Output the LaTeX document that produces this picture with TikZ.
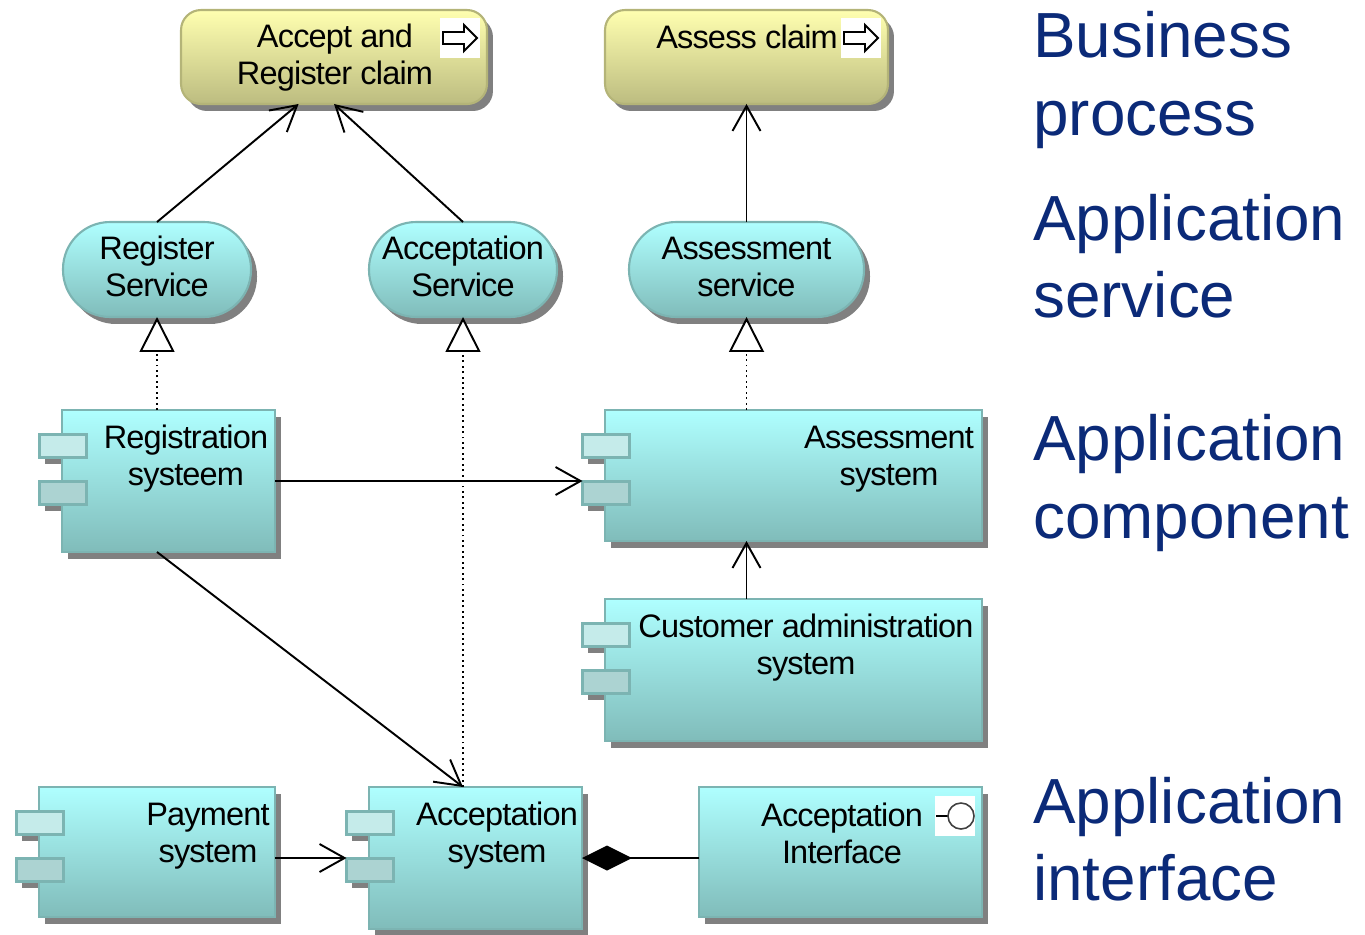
\documentclass[tikz,border=0pt]{standalone}
\usepackage{fontspec}
\setmainfont{Liberation Sans}[LetterSpace=-2.5]
\newfontfamily\layerfont{Liberation Sans}
\usepackage{xcolor}
\usepackage{tikz}
\usetikzlibrary{arrows.meta,shadows}
\definecolor{appedge}{HTML}{7CB4B2}
\definecolor{apptop}{HTML}{AFFFFF}
\definecolor{appbot}{HTML}{80BCBA}
\definecolor{bizedge}{HTML}{B4B478}
\definecolor{biztop}{HTML}{FFFFB0}
\definecolor{bizbot}{HTML}{BCBC80}
\definecolor{shadowgray}{HTML}{808080}
\definecolor{layerblue}{HTML}{0B2A78}

\begin{document}
\begin{tikzpicture}[
   x=0.02cm,y=-0.02cm,
   solidshadow/.style={drop shadow={shadow xshift=0.12cm,shadow yshift=-0.14cm,fill=shadowgray,opacity=1}},
   biz/.style={draw=bizedge,line width=1.2pt,outer sep=0pt,rounded corners=0.4cm,top color=biztop,bottom color=bizbot,minimum height=1.88cm,solidshadow},
   svc/.style={draw=appedge,line width=1.2pt,outer sep=0pt,rounded corners=0.94cm,top color=apptop,bottom color=appbot,minimum height=1.9cm,text depth=0.12cm,solidshadow},
   comp/.style={draw=appedge,line width=1.2pt,outer sep=0pt,top color=apptop,bottom color=appbot,inner sep=0pt,solidshadow},
   tabbox/.style={draw=appedge,line width=1.2pt,outer sep=0pt,minimum width=0.94cm,minimum height=0.46cm,inner sep=0pt},
   lab/.style={align=center,font=\fontsize{18.5}{21}\selectfont},
   layer/.style={align=left,anchor=west,inner sep=0pt,text=layerblue,font=\layerfont\fontsize{36.3}{44}\selectfont},
   icon/.style={fill=white,minimum size=0.8cm,inner sep=0pt},
   to/.style={-{Straight Barb[length=0.5cm,width=0.56cm]},line width=1.1pt},
   real/.style={-{Triangle[fill=white,length=0.7cm,width=0.7cm]},line width=1.1pt,dotted},
   whole/.style={-{Diamond[length=1cm,width=0.5cm]},line width=1.1pt}]
\useasboundingbox (0,0) rectangle (1365,934);
% business process
\node[biz,minimum width=6.12cm] (accept) at (334,57) {};
\node[biz,minimum width=5.66cm] (assess) at (746.5,57) {};
\node[lab] (accepttext) at (335,58) {Accept and\\Register claim};
\node[lab] (assesstext) at (747,37) {Assess claim};
\foreach \n/\xa in {accepticon/460,assessicon/861}{
  \node[icon] (\n) at (\xa,38) {};
  \draw[line width=1.1pt,shift={(\xa,38)}] (-17,-6) -- (4,-6) -- (4,-13) -- (17,0) -- (4,13) -- (4,6) -- (-17,6) -- cycle;
}
% services
\foreach \n/\xa/\wa/\txt in {regsvc/157/188/{Register\\Service},accsvc/463/188/{Acceptation\\Service},asmsvc/746.5/235/{Assessment\\service}}{
  \node[svc,minimum width=\wa*0.02cm,lab] (\n) at (\xa,269.5) {\txt};
}
% components
\foreach \n/\xa/\ya/\wa/\ha/\tx/\txt in {
  reg/62/410/213/142/186/{Registration\\systeem},
  asm/605/410/377/131/889/{Assessment\\system},
  cust/605/599/377/142/806/{Customer administration\\system},
  acc/369/787/213/142/497/{Acceptation\\system},
  pay/39/787/236/130/208/{Payment\\system}}{
  \fill[shadowgray] (\xa-17,\ya+30) rectangle +(48,24);
  \fill[shadowgray] (\xa-17,\ya+77) rectangle +(48,24);
  \node[comp,minimum width=\wa*0.02cm,minimum height=\ha*0.02cm] (\n) at (\xa+\wa/2,\ya+\ha/2) {};
  \node[tabbox,fill=apptop!45!appbot!55!white] (\n-tab1) at (\xa+1,\ya+36) {};
  \node[tabbox,fill=appbot!65!white] (\n-tab2) at (\xa+1,\ya+83) {};
  \node[lab] (\n-text) at (\tx,\ya+49) {\txt};
}
\node[comp,minimum width=5.66cm,minimum height=2.6cm] (iface) at (840.5,852) {};
\node[lab] (ifacetext) at (842,833) {Acceptation\\Interface};
\node[icon] (ifaceicon) at (955,816) {};
\draw[line width=1.1pt] (936,816) -- (948,816);
\draw[line width=0.9pt,black!75] (961,816) circle (0.26cm);
% layer names
\node[layer] (bizlayer) at (1033,80) {Business\\process};
\node[layer] (svclayer) at (1033,256) {Application\\service};
\node[layer] (complayer) at (1033,483) {Application\\component};
\node[layer] (ifacelayer) at (1033,839) {Application\\interface};
% connectors
\draw[to] (regsvc.north) -- (accept.233);
\draw[to] (accsvc.north) -- (accept.south);
\draw[to] (asmsvc.north) -- (assess.south);
\draw[real] (regsvc.south |- reg.north) -- (regsvc.south);
\draw[real] (accsvc.south |- acc.north) -- (accsvc.south);
\draw[real] (asmsvc.south |- asm.north) -- (asmsvc.south);
\draw[to] (reg.east) -- (reg.east -| asm-tab2.west);
\draw[to] (asmsvc.south |- cust.north) -- (asmsvc.south |- asm.south);
\draw[to] (regsvc.south |- reg.south) -- (accsvc.south |- acc.north);
\draw[to] (pay.east |- acc.west) -- (acc.west -| acc-tab2.west);
\draw[whole] (iface.west |- acc.east) -- (acc.east);
\end{tikzpicture}
\end{document}
